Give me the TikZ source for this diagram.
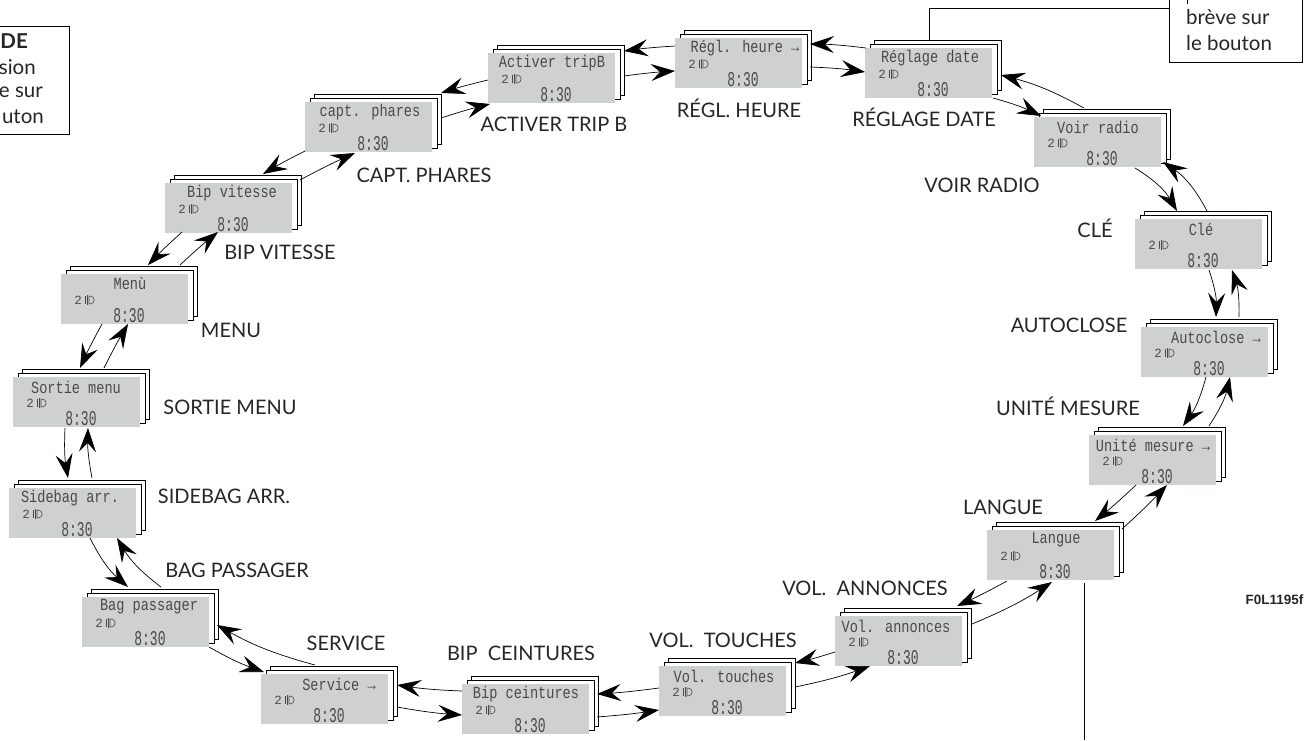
\documentclass[tikz,border=0pt]{standalone}
\usepackage{fontspec}
\usepackage{xcolor}
\usetikzlibrary{arrows.meta, positioning}
\setmainfont{Lato}
\newfontfamily\lcdfont{Liberation Mono}
\newfontfamily\codefont{Liberation Sans}
\definecolor{lcdgray}{HTML}{CFD0D0}
\definecolor{lcdink}{HTML}{4A4A4A}
\definecolor{labelink}{HTML}{262626}
\tikzset{
    sheet/.style={draw=black, line width=0.9, fill=white, anchor=north west, minimum width=127, minimum height=50, inner sep=0},
    screen/.style={fill=lcdgray, anchor=north west, minimum width=127, minimum height=50, inner sep=0},
    lcdtitle/.style={text=lcdink, font=\lcdfont\fontsize{17}{18}\selectfont, inner sep=0},
    lcdclock/.style={text=lcdink, font=\lcdfont\fontsize{21}{22}\selectfont, inner sep=0},
    lcdnum/.style={text=lcdink, font=\lcdfont\fontsize{12.5}{13}\selectfont, inner sep=0},
    lcdname/.style={text=labelink, font=\fontsize{20}{22}\selectfont, inner sep=0},
    legendbox/.style={draw=black, line width=1, fill=white, minimum width=133, minimum height=108, inner sep=0},
    legendtext/.style={text=labelink, align=left, inner sep=0, font=\fontsize{20.5}{25.5}\selectfont},
    wire/.style={draw=black, line width=1},
    flow/.style={draw=black, line width=0.7, -{Stealth[length=24pt, width=17pt, inset=9pt]}},
    pics/lcdlamp/.style={code={
        \draw[lcdink, line width=0.6] (2,-4) .. controls (9,-4) and (9,4) .. (2,4) -- cycle;
        \draw[lcdink, line width=0.6] (-2,-4) -- (-2,4) (0,-5) -- (0,5);
    }}
}
\begin{document}
\begin{tikzpicture}[x=1pt, y=-1pt]
    \useasboundingbox (0,0) rectangle (1306,740);
    \clip (0,0) rectangle (1306,740);
    % Screens
    \foreach \nm/\x/\y/\ttl/\tx/\lx/\ly/\txt in {
        bipv/165/183/Bip vitesse/67/280/252/BIP VITESSE,
        menu/61/274/Menù/69/231/330/MENU,
        sortie/13/377/Sortie menu/63/230/407/SORTIE MENU,
        sidebag/9/488/Sidebag arr./61/224/496/SIDEBAG ARR.,
        bag/82/597/Bag passager/67/237/570/BAG PASSAGER,
        service/261/674/Service →/78/346/643/SERVICE,
        ceint/462/684/Bip ceintures/64/521/653/BIP~~CEINTURES,
        touches/659/666/Vol. touches/65/723/640/VOL.~~TOUCHES,
        annonces/835/616/Vol. annonces/61/865/588/VOL.~~ANNONCES,
        langue/987/530/Langue/69/1003/507/LANGUE,
        unite/1089/435/Unité mesure →/64/1068/406/UNITÉ MESURE,
        autoclose/1141/327/Autoclose →/75/1069/325/AUTOCLOSE,
        cle/1135/219/Clé/66/1095/228/CLÉ,
        voir/1034/117/Voir radio/64/982/185/VOIR RADIO,
        reglage/865/48/Réglage date/65/924/117/RÉGLAGE DATE,
        heure/675/38/Régl. heure →/70/739/108/RÉGL. HEURE,
        activer/488/53/Activer tripB/64/554/124/ACTIVER TRIP B,
        capt/305/102/capt. phares/65/424/175/CAPT. PHARES} {
        \node[sheet] (\nm-b) at (\x+8.5,\y-8.5) {};
        \node[sheet] (\nm-m) at (\x+4.5,\y-4.5) {};
        \node[screen] (\nm) at (\x,\y) {};
        \node[lcdtitle] (\nm-t) at ([shift={(\tx,10)}]\nm.north west) {\scalebox{.8}[1]{\ttl}};
        \node[lcdnum] (\nm-n) at ([shift={(17,26)}]\nm.north west) {2};
        \pic at ([shift={(26,26)}]\nm.north west) {lcdlamp};
        \node[lcdclock] (\nm-c) at ([shift={(68,42)}]\nm.north west) {\scalebox{.62}[1]{8:30}};
        \node[lcdname] (\nm-l) at (\lx,\ly) {\txt};
    }
    % Arrows
    \foreach \src/\sx/\sy/\dst/\ex/\ey/\bnd in {
        capt/0/49/bipv/98/-9/-2, bipv/135/-3/capt/50/51/2,
        activer/0/27/capt/136/-9/-2, capt/136/16/activer/2/51/2,
        heure/0/8/activer/136/-2/-2, activer/136/23/heure/0/33/2,
        reglage/1/0/heure/135/6/-3, heure/135/29/reglage/0/24/3,
        voir/50/-9/reglage/136/27/-7, reglage/128/50/voir/7/-1/5,
        cle/72/-8/voir/129/45/-14, voir/101/51/cle/42/-8/14,
        autoclose/98/-10/cle/97/51/-10, cle/74/51/autoclose/75/-10/10,
        unite/120/-9/autoclose/89/50/-10, autoclose/65/50/unite/94/-9/10,
        unite/47/50/langue/108/-9/2, langue/135/-1/unite/78/50/-2,
        langue/20/51/annonces/122/-10/2, annonces/137/8/langue/65/52/-5,
        annonces/0/36/touches/136/-3/2, touches/136/21/annonces/35/50/-4,
        touches/0/22/ceint/135/10/2, ceint/135/33/touches/0/44/-2,
        ceint/0/7/service/136/11/3, service/136/33/ceint/0/31/-3,
        service/54/-9/bag/135/28/7, bag/127/50/service/3/-2/-5,
        bag/79/-10/sidebag/108/50/11, sidebag/81/50/bag/46/-10/-11,
        sidebag/83/-10/sortie/75/51/6, sortie/52/51/sidebag/59/-10/-6,
        sortie/91/-9/menu/67/50/2, menu/41/50/sortie/67/-9/-2,
        menu/119/-9/bipv/53/49/2, bipv/17/49/menu/87/-9/-2} {
        \draw[flow] ([shift={(\sx,\sy)}]\src.north west) to[bend left=\bnd] ([shift={(\ex,\ey)}]\dst.north west);
    }
    % Legends
    \node[legendbox] (legendl) at (2.5,80) {};
    \node[legendtext, anchor=east] (legendl-a) at (28,41) {\textbf{DE}};
    \node[legendtext, anchor=east] (legendl-b) at (36,67) {sion};
    \node[legendtext, anchor=east] (legendl-c) at (43,92) {e sur};
    \node[legendtext, anchor=east] (legendl-d) at (44,117) {uton};
    \node[legendbox] (legendr) at (1235.5,8) {};
    \node[legendtext, anchor=west] (legendr-t) at (1186,30) {brève sur\\le bouton};
    \draw[wire] (1187,0) -- (1187,4);
    \draw[wire] (legendr.west) -| ([xshift=-8]reglage-b.north);
    \coordinate (langend) at (1084,740);
    \draw[wire] ([yshift=-3]langend |- langue.south) -- (langend);
    \node[font=\codefont\bfseries\fontsize{13.5}{14}\selectfont, text=labelink, inner sep=0] (figcode) at (1274.5,600) {F0L1195f};
\end{tikzpicture}
\end{document}
